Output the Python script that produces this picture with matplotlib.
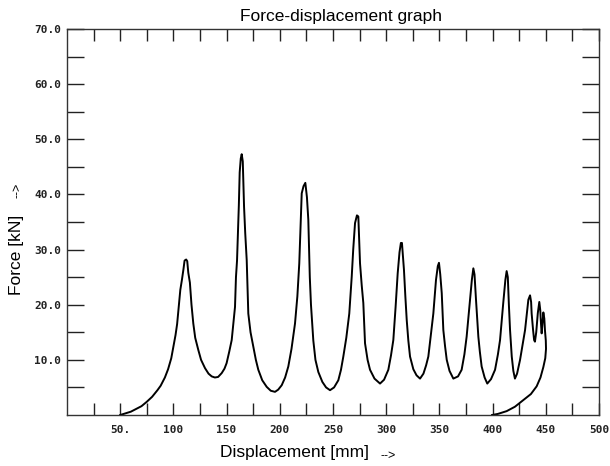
import numpy as np
import matplotlib
matplotlib.use("Agg")
import matplotlib.pyplot as plt

# displacement [mm] and force [kN]
disp = [50, 60, 70, 75, 80, 85, 88, 92, 95, 98, 100, 102, 103.5, 105, 106.5, 108, 109.5, 110.5, 112, 113,
        114, 115.5, 117, 118.7, 120.5, 123.4, 126, 129.7, 133, 136, 139, 142, 145.4, 148, 150, 152.5, 154.8,
        156.5, 157.9, 158.8, 159.8, 160.5, 161.5, 162.3, 163.3, 164.2, 165.2, 165.8, 166.4, 167.5, 168.9,
        169.8, 170.4, 172.5, 175.1, 177.5, 179.8, 183.5, 187.7, 191.5, 195.5, 198.5, 201.8, 205, 208, 211,
        214.3, 216.5, 218.3, 219.5, 220.6, 222.3, 224, 225.5, 226.8, 228.2, 229.3, 231.5, 233.5, 236.2, 240,
        243.5, 247.2, 251, 255, 257.5, 259.7, 262.5, 265.3, 267.6, 269, 270.7, 272.5, 273.8, 274.6, 275.4,
        277, 278.5, 280.1, 282.5, 284.8, 289, 294.2, 298, 302, 304.5, 306.7, 308.8, 310.8, 312.5, 313.8,
        314.8, 315.7, 316.7, 318, 319.3, 320.8, 322.4, 325.5, 328.5, 331.8, 335, 337.5, 339.6, 342, 344.3,
        346.8, 348.5, 349.6, 350.8, 352.2, 353.7, 355.3, 356.9, 359.5, 363.1, 367.5, 370.9, 373.5, 375.6,
        378.8, 380.5, 381.9, 383, 384.4, 386.6, 388, 389.7, 392.5, 395, 398.5, 402.3, 405, 407, 410, 412,
        413.2, 414.3, 415.3, 416.4, 418, 419.5, 421, 423, 425.8, 428, 430.5, 432, 433.6, 435.2, 436.2, 436.7,
        438, 439, 439.8, 441, 442.5, 443.9, 444.8, 445.5, 446.1, 446.8, 447.7, 448.6, 449.2,
        450.0, 450.2, 449.5, 447.7, 445, 441.4, 436, 428.9, 421, 413.2, 405, 399.5]
force = [0, 0.6, 1.6, 2.4, 3.3, 4.5, 5.3, 6.8, 8.3, 10.3, 12.4, 14.5, 16.5, 19.5, 22.7, 24.5, 26.5, 28.0, 28.2, 27.9,
         25.8, 24.0, 20.0, 16.6, 14.0, 11.8, 10.0, 8.5, 7.5, 7.0, 6.8, 6.9, 7.6, 8.4, 9.4, 11.5, 13.6,
         17.0, 19.6, 25.0, 28.0, 32.0, 38.0, 44.0, 46.5, 47.3, 46.0, 42.0, 37.8, 33.0, 28.1,
         22.0, 18.4, 15.0, 12.4, 10.0, 8.2, 6.3, 5.1, 4.4, 4.2, 4.6, 5.4, 6.8, 8.8, 12.0,
         16.6, 21.5, 27.5, 34.0, 40.2, 41.5, 42.1, 39.5, 35.4, 25.0, 20.0, 13.5, 10.0, 7.8, 6.0,
         5.0, 4.5, 5.0, 6.3, 8.2, 10.6, 14.0, 18.4, 25.1, 30.0, 34.8, 36.2, 36.0, 32.0, 27.5,
         23.5, 20.3, 13.0, 10.0, 8.2, 6.6, 5.7, 6.4, 8.2, 10.8, 13.6, 19.5, 25.7, 29.5, 31.2,
         31.2, 29.0, 26.3, 21.5, 17.2, 13.5, 10.6, 8.3, 7.2, 6.6, 7.5, 9.0, 10.6, 14.5, 18.4,
         24.5, 27.0, 27.6, 25.5, 22.1, 15.4, 12.5, 10.0, 8.0, 6.6, 7.0, 8.2, 11.0, 14.2,
         20.9, 24.5, 26.6, 25.5, 20.9, 14.2, 11.5, 8.8, 6.8, 5.7, 6.5, 8.2, 11.0, 13.6, 20.3, 24.5,
         26.1, 25.0, 20.0, 15.4, 10.6, 8.0, 6.6, 7.5, 10.0, 12.5, 15.4, 18.0, 20.9, 21.7, 20.5, 18.4,
         15.5, 13.6, 13.3, 15.0, 18.5, 20.5, 19.0, 16.5, 14.8, 16.5, 18.6, 17.5, 15.4,
         13.5, 12.0, 10.3, 8.7, 6.8, 5.2, 3.8, 2.7, 1.5, 0.7, 0.2, 0]

x_major = [50, 100, 150, 200, 250, 300, 350, 400, 450, 500]
x_labels = ["50.", "100", "150", "200", "250", "300", "350", "400", "450", "500"]
y_major = [10, 20, 30, 40, 50, 60, 70]
y_labels = ["10.0", "20.0", "30.0", "40.0", "50.0", "60.0", "70.0"]

fig = plt.figure(figsize=(6.10, 4.66), dpi=100)
ax = fig.add_axes([67/610, 1-415/466, 532/610, 386/466])

ax.plot(disp, force, color="black", lw=1.4)

ax.set_xlim(0, 500)
ax.set_ylim(0, 70)
ax.set_xticks(x_major)
ax.set_xticklabels(x_labels)
ax.set_xticks(np.arange(25, 500, 50), minor=True)
ax.set_yticks(y_major)
ax.set_yticklabels(y_labels)
ax.set_yticks(np.arange(5, 70, 10), minor=True)

for lab in ax.get_xticklabels() + ax.get_yticklabels():
    lab.set_fontfamily("DejaVu Sans Mono")
    lab.set_fontweight("bold")
    lab.set_fontsize(8)
    lab.set_color("#222222")

ax.tick_params(axis="x", which="both", direction="in", length=8.6, width=1.0,
               top=True, bottom=True, pad=7, color="#222222")
ax.tick_params(axis="y", which="both", direction="in", length=12.2, width=1.0,
               left=True, right=True, pad=4, color="#222222")
for s in ax.spines.values():
    s.set_linewidth(1.0)
    s.set_color("#333333")

fig.text(341/610, 1-16/466, "Force-displacement graph", ha="center", va="center",
         family="Liberation Sans", fontsize=12.5)
fig.text(294/610, 1-453/466, "Displacement [mm]", ha="center", va="center",
         family="Liberation Sans", fontsize=12.5)
fig.text(388/610, 1-456/466, "-->", ha="center", va="center",
         family="Liberation Sans", fontsize=9)
fig.text(17/610, 1-255/466, "Force [kN]", ha="center", va="center", rotation=90,
         family="Liberation Sans", fontsize=12.5)
fig.text(17/610, 1-190/466, "-->", ha="center", va="center", rotation=90,
         family="Liberation Sans", fontsize=9)

fig.savefig("out.png", dpi=100)
